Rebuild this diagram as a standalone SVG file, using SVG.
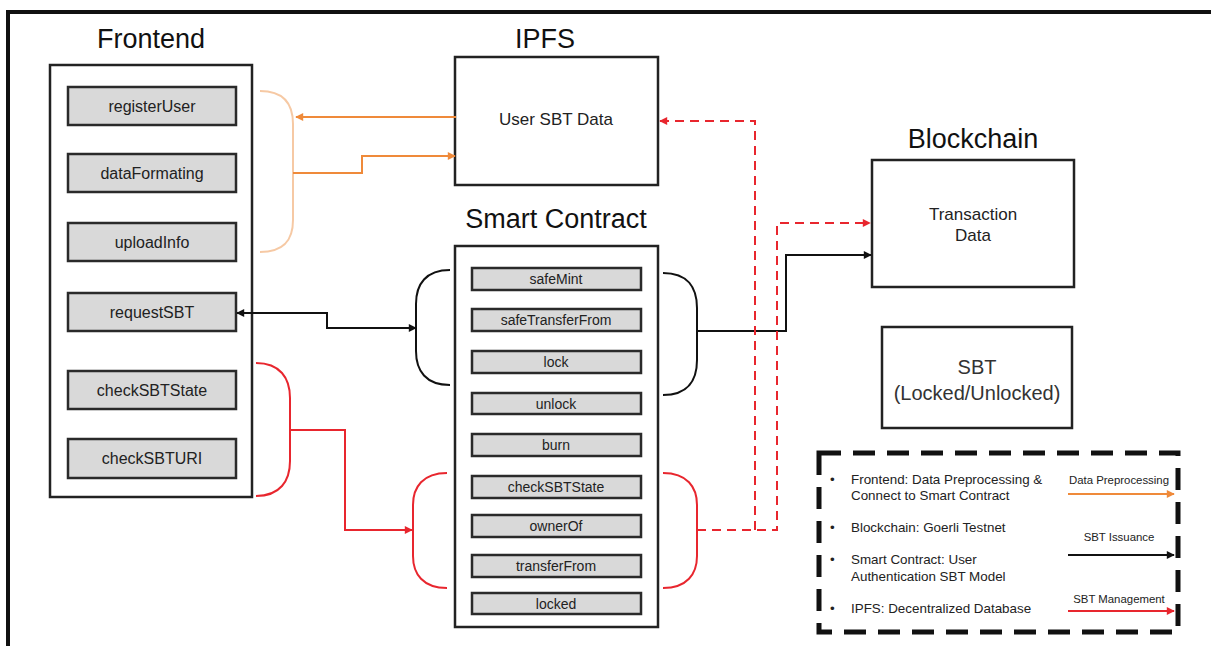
<svg xmlns="http://www.w3.org/2000/svg" width="1211" height="646" viewBox="0 0 1211 646">
<defs>
<style>
.title{font-family:"Liberation Sans",Arial,sans-serif;font-size:27px;fill:#111;text-anchor:middle}
.box{fill:#fff;stroke:#222;stroke-width:2.5}
.fn{fill:#d9d9d9;stroke:#2a2a2a;stroke-width:2.5}
.ft{font-family:"Liberation Sans",Arial,sans-serif;font-size:16px;fill:#222;text-anchor:middle}
.st{font-family:"Liberation Sans",Arial,sans-serif;font-size:14px;fill:#222;text-anchor:middle}
.bt{font-family:"Liberation Sans",Arial,sans-serif;font-size:17px;fill:#222;text-anchor:middle}
.lg{font-family:"Liberation Sans",Arial,sans-serif;font-size:13.4px;fill:#222}
.lr{font-family:"Liberation Sans",Arial,sans-serif;font-size:11.4px;fill:#222;text-anchor:middle}
.c{fill:none;stroke-width:2}
.or{stroke:#ef8a3a}
.bk{stroke:#111}
.rd{stroke:#e8262e}
.dash{stroke-dasharray:9 6}
</style>
<marker id="ao" viewBox="0 0 10 10" refX="9" refY="5" markerWidth="9" markerHeight="8" markerUnits="userSpaceOnUse" orient="auto-start-reverse"><path d="M0,0 L10,5 L0,10 z" fill="#ef8a3a"/></marker>
<marker id="ab" viewBox="0 0 10 10" refX="9" refY="5" markerWidth="9" markerHeight="8" markerUnits="userSpaceOnUse" orient="auto-start-reverse"><path d="M0,0 L10,5 L0,10 z" fill="#111"/></marker>
<marker id="ar" viewBox="0 0 10 10" refX="9" refY="5" markerWidth="9" markerHeight="8" markerUnits="userSpaceOnUse" orient="auto-start-reverse"><path d="M0,0 L10,5 L0,10 z" fill="#e8262e"/></marker>
</defs>
<rect width="1211" height="646" fill="#fff"/>
<g id="frame" stroke="#111" stroke-width="4" fill="none">
<path d="M8,646 V12 H1211"/>
</g>

<g id="frontend">
<text class="title" x="151" y="48">Frontend</text>
<rect class="box" x="50" y="65" width="202" height="432"/>
<rect class="fn" x="68" y="87" width="168" height="38"/><text class="ft" x="152" y="112">registerUser</text>
<rect class="fn" x="68" y="154" width="168" height="38"/><text class="ft" x="152" y="179">dataFormating</text>
<rect class="fn" x="68" y="223" width="168" height="38"/><text class="ft" x="152" y="248">uploadInfo</text>
<rect class="fn" x="68" y="293" width="168" height="38"/><text class="ft" x="152" y="318">requestSBT</text>
<rect class="fn" x="68" y="371" width="168" height="38"/><text class="ft" x="152" y="396">checkSBTState</text>
<rect class="fn" x="68" y="439" width="168" height="39"/><text class="ft" x="152" y="464">checkSBTURI</text>
</g>

<g id="ipfs">
<text class="title" x="545" y="48">IPFS</text>
<rect class="box" x="455" y="57" width="203" height="128"/>
<text class="bt" x="556" y="125">User SBT Data</text>
</g>

<g id="smart-contract">
<text class="title" x="556" y="228">Smart Contract</text>
<rect class="box" x="455" y="246" width="203" height="381"/>
<rect class="fn" x="472" y="268" width="169" height="22"/><text class="st" x="556" y="284">safeMint</text>
<rect class="fn" x="472" y="309" width="169" height="22"/><text class="st" x="556" y="325">safeTransferFrom</text>
<rect class="fn" x="472" y="351" width="169" height="22"/><text class="st" x="556" y="367">lock</text>
<rect class="fn" x="472" y="393" width="169" height="21"/><text class="st" x="556" y="409">unlock</text>
<rect class="fn" x="472" y="434" width="169" height="22"/><text class="st" x="556" y="450">burn</text>
<rect class="fn" x="472" y="476" width="169" height="22"/><text class="st" x="556" y="492">checkSBTState</text>
<rect class="fn" x="472" y="515" width="169" height="22"/><text class="st" x="556" y="531">ownerOf</text>
<rect class="fn" x="472" y="555" width="169" height="22"/><text class="st" x="556" y="571">transferFrom</text>
<rect class="fn" x="472" y="593" width="169" height="21"/><text class="st" x="556" y="609">locked</text>
</g>

<g id="blockchain">
<text class="title" x="973" y="148">Blockchain</text>
<rect class="box" x="872" y="160" width="202" height="127"/>
<text class="bt" x="973" y="220">Transaction</text>
<text class="bt" x="973" y="241">Data</text>
</g>

<g id="sbt">
<rect class="box" x="882" y="327" width="190" height="101"/>
<text x="977" y="374" font-family="Liberation Sans, Arial, sans-serif" font-size="20" fill="#333" text-anchor="middle">SBT</text>
<text x="977" y="400" font-family="Liberation Sans, Arial, sans-serif" font-size="20" fill="#333" text-anchor="middle">(Locked/Unlocked)</text>
</g>

<g id="connectors">
<path class="c" stroke="#f6c9a4" stroke-width="1.5" fill="none" d="M260,91 C284,91 293,104 293,124 V220 C293,240 284,252 260,252"/>
<path class="c or" d="M456,117 H296" marker-end="url(#ao)"/>
<path class="c or" d="M293,173 H362 V156 H455" marker-end="url(#ao)"/>
<path class="c bk" d="M450,270 C426,270 416,284 416,304 V351 C416,371 426,385 450,385"/>
<path class="c bk" d="M663,273 C688,273 697,288 697,308 V360 C697,380 688,395 663,395"/>
<path class="c bk" stroke-width="1.8" d="M237,313 H327 V328 H416" marker-start="url(#ab)" marker-end="url(#ab)"/>
<path class="c bk" d="M697,331 H786 V255 H871" marker-end="url(#ab)"/>
<path class="c rd" d="M256,363 C280,363 290,378 290,398 V461 C290,481 280,496 256,496"/>
<path class="c rd" d="M447,473 C423,473 413,487 413,505 V556 C413,574 423,588 447,588"/>
<path class="c rd" d="M663,473 C687,473 697,487 697,505 V556 C697,574 687,588 663,588"/>
<path class="c rd" d="M290,430 H345 V530 H412" marker-end="url(#ar)"/>
<path class="c rd dash" d="M697,530 H777 V223 H870" marker-end="url(#ar)"/>
<path class="c rd dash" d="M755,530 V121 H660" marker-end="url(#ar)"/>
</g>

<g id="legend">
<rect x="819" y="453" width="359" height="179" fill="none" stroke="#111" stroke-width="5" stroke-dasharray="22 12"/>
<text class="lg" x="830" y="484">•</text>
<text class="lg" x="851" y="484">Frontend: Data Preprocessing &amp;</text>
<text class="lg" x="851" y="500">Connect to Smart Contract</text>
<text class="lg" x="830" y="532">•</text>
<text class="lg" x="851" y="532">Blockchain: Goerli Testnet</text>
<text class="lg" x="830" y="564">•</text>
<text class="lg" x="851" y="564">Smart Contract: User</text>
<text class="lg" x="851" y="581">Authentication SBT Model</text>
<text class="lg" x="830" y="613">•</text>
<text class="lg" x="851" y="613">IPFS: Decentralized Database</text>
<text class="lr" x="1119" y="484">Data Preprocessing</text>
<path class="c or" d="M1068,494 H1174" marker-end="url(#ao)"/>
<text class="lr" x="1119" y="541">SBT Issuance</text>
<path class="c bk" d="M1068,555 H1174" marker-end="url(#ab)"/>
<text class="lr" x="1119" y="603">SBT Management</text>
<path class="c rd" d="M1068,611 H1174" marker-end="url(#ar)"/>
</g>
</svg>
